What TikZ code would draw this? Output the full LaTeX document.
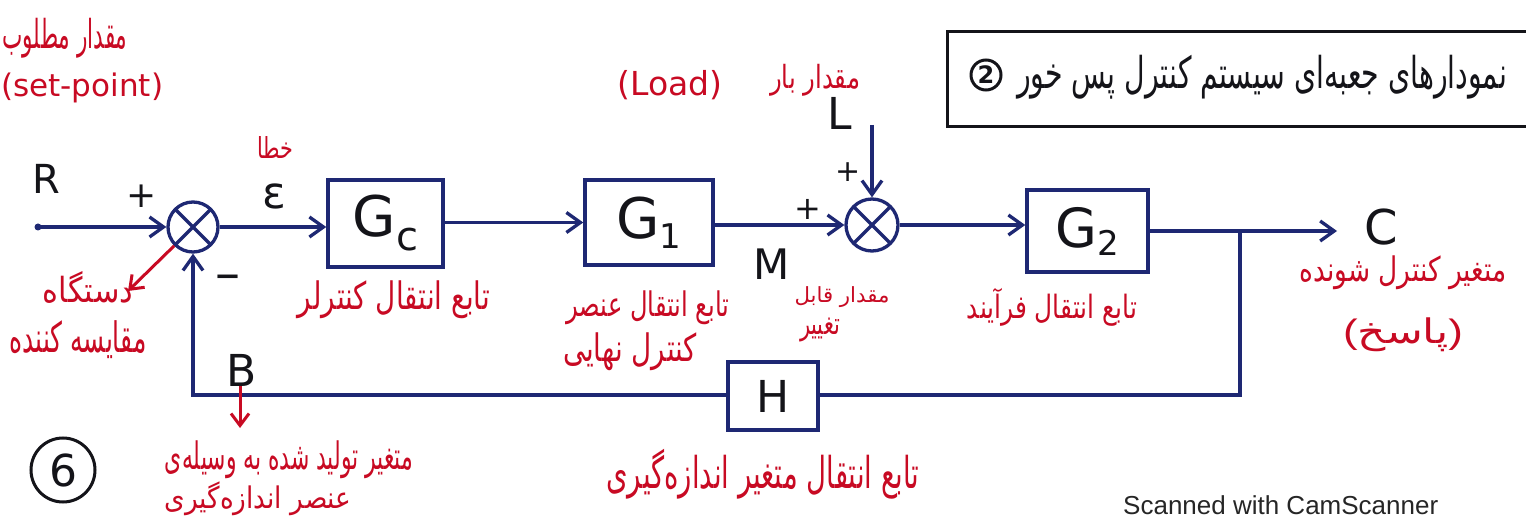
\documentclass[tikz,border=0pt]{standalone}
\usepackage{graphicx}
\usepackage{fontspec}
\setmainfont{DejaVu Sans}
\newfontfamily\fa[Script=Arabic]{DejaVu Sans}
\newfontfamily\lat{Liberation Sans}
\TeXXeTstate=1
\usetikzlibrary{arrows.meta}
\definecolor{ink}{RGB}{30,40,115}
\definecolor{pen}{RGB}{200,10,35}
\definecolor{dark}{RGB}{20,20,25}
\newcommand{\fatx}[3]{\resizebox*{#1pt}{#2pt}{\fa #3}}
\newcommand{\latx}[2]{\resizebox{#1pt}{!}{#2}}
\newcommand{\fs}[1]{\fontsize{#1}{#1}\selectfont}
\tikzset{
  wire/.style={draw=ink, line width=3.3pt},
  arr/.style={wire, -{Straight Barb[length=14pt,width=20pt]}},
  redarr/.style={draw=pen, line width=3pt, -{Straight Barb[length=12pt,width=18pt]}},
  blk/.style={draw=ink, line width=3.5pt, inner sep=0pt, text=dark},
  sumj/.style={circle, draw=ink, line width=3.3pt, minimum size=50pt, inner sep=0pt,
    path picture={\draw[ink, line width=3.3pt]
      (path picture bounding box.north west) -- (path picture bounding box.south east)
      (path picture bounding box.north east) -- (path picture bounding box.south west);}},
  lbl/.style={inner sep=0pt, text=dark},
  note/.style={inner sep=0pt, text=pen},
}
\begin{document}
\begin{tikzpicture}[x=1pt,y=-1pt]
\useasboundingbox (0,0) rectangle (1526,518);
\fill[white] (0,0) rectangle (1526,518);
\clip (0,0) rectangle (1526,518);

% summing junctions
\node[sumj] (s1) at (193,227) {};
\node[sumj, minimum size=52pt] (s2) at (872,225) {};

% blocks
\node[blk, minimum width=115pt, minimum height=87pt] (gc) at (385.5,223.5)
  {\fs{56}G\raisebox{-14pt}{\fs{40}c}};
\node[blk, minimum width=128pt, minimum height=85pt] (g1) at (649,222.5)
  {\fs{56}G\raisebox{-10pt}{\fs{34}1}};
\node[blk, minimum width=121pt, minimum height=82pt] (g2) at (1087.5,231)
  {\fs{54}G\raisebox{-8pt}{\fs{34}2}};
\node[blk, minimum width=90pt, minimum height=68pt] (h) at (773,396)
  {\fs{44}H};

% coordinates
\coordinate (rin) at (38,227);
\coordinate (cout) at (1337,231);
\coordinate (br) at (1240,231);
\coordinate (fb1) at (1240,395);
\coordinate (fb2) at (193,395);
\coordinate (ltop) at (872,125);
\coordinate (cmp) at (128,291);
\coordinate (b1) at (240,383);
\coordinate (b2) at (240,428);

% connectors
\fill[ink] (rin) circle (3.5pt);
\draw[arr] (rin) -- (s1.west);
\draw[arr] (s1.east) -- (s1.east -| gc.west);
\draw[arr] (gc.east |- g1.west) -- (g1.west);
\draw[arr] (g1.east |- s2.west) -- (s2.west);
\draw[arr] (s2.east) -- (s2.east -| g2.west);
\draw[arr] (ltop) -- (s2.north);
\draw[arr] (g2.east) -- (cout);
\draw[wire] (br) -- (fb1) -- (fb1 -| h.east);
\draw[arr] (h.west |- fb1) -- (fb2) -- (s1.south);
\draw[redarr] (s1.south west) -- (cmp);
\draw[redarr] (b1) -- (b2);

% black labels
\node[lbl] (lr) at (46,179) {\fs{40}R};
\node[lbl] (lp1) at (142,196) {\fs{36}+};
\node[lbl] (leps) at (274,196) {\fs{44}ε};
\node[lbl] (lmin) at (228,283) {\fs{50}–};
\node[lbl] (lb) at (242,370) {\fs{44}B};
\node[lbl] (lM) at (772,264) {\fs{42}M};
\node[lbl] (lp2) at (808,209) {\fs{32}+};
\node[lbl] (lp3) at (848,172) {\fs{30}+};
\node[lbl] (lL) at (840,113) {\fs{44}L};
\node[lbl] (lC) at (1381,227) {\fs{48}C};

% title box
\draw[dark, line width=3pt] (1540,32) -- (947,32) -- (947,127) -- (1540,127);
\node[circle, draw=dark, line width=3pt, minimum size=30pt, inner sep=0pt, text=dark]
  (c2) at (986,75) {\fs{24}\bfseries 2};
\node[lbl] (title) at (1262,77) {\fatx{490}{44}{\beginR نمودارهای جعبه‌ای سیستم کنترل پس خور\endR}};

% circled 6
\node[circle, draw=dark, line width=3pt, minimum size=64pt, inner sep=0pt, text=dark]
  (c6) at (63,470) {\fs{44}6};

% red notes
\node[note] (n1) at (65,38) {\fatx{125}{40}{\beginR مقدار مطلوب\endR}};
\node[note, anchor=west] (n2) at (1,88) {\latx{162}{(set-point)}};
\node[note] (n3) at (275,148) {\fatx{36}{22}{\beginR خطا\endR}};
\node[note] (n4) at (670,85) {\latx{105}{(Load)}};
\node[note] (n5) at (815,80) {\fatx{90}{32}{\beginR مقدار بار\endR}};
\node[note] (n6) at (88,287) {\fatx{90}{32}{\beginR دستگاه\endR}};
\node[note] (n7) at (78,340) {\fatx{137}{38}{\beginR مقایسه کننده\endR}};
\node[note] (n8) at (394,300) {\fatx{192}{38}{\beginR تابع انتقال کنترلر\endR}};
\node[note] (n9) at (648,308) {\fatx{163}{34}{\beginR تابع انتقال عنصر\endR}};
\node[note] (n10) at (630,352) {\fatx{134}{38}{\beginR کنترل نهایی\endR}};
\node[note] (n11) at (842,297) {\fatx{95}{21}{\beginR مقدار قابل\endR}};
\node[note] (n12) at (820,330) {\fatx{40}{24}{\beginR تغییر\endR}};
\node[note] (n13) at (1052,307) {\fatx{170}{38}{\beginR تابع انتقال فرآیند\endR}};
\node[note] (n14) at (1403,273) {\fatx{207}{34}{\beginR متغیر کنترل شونده\endR}};
\node[note] (n15) at (1403,335) {\resizebox*{120pt}{34pt}{\mbox{\lat(}\mbox{\fa\beginR پاسخ\endR}\mbox{\lat)}}};
\node[note] (n16) at (289,460) {\fatx{248}{38}{\beginR متغیر تولید شده به وسیله‌ی\endR}};
\node[note] (n17) at (258,499) {\fatx{187}{34}{\beginR عنصر اندازه‌گیری\endR}};
\node[note] (n18) at (763,474) {\fatx{313}{50}{\beginR تابع انتقال متغیر اندازه‌گیری\endR}};

% watermark
\node[lbl, anchor=base west, text=black!85] (wm) at (1123,514) {\lat\fs{26}Scanned with CamScanner};
\end{tikzpicture}
\end{document}
